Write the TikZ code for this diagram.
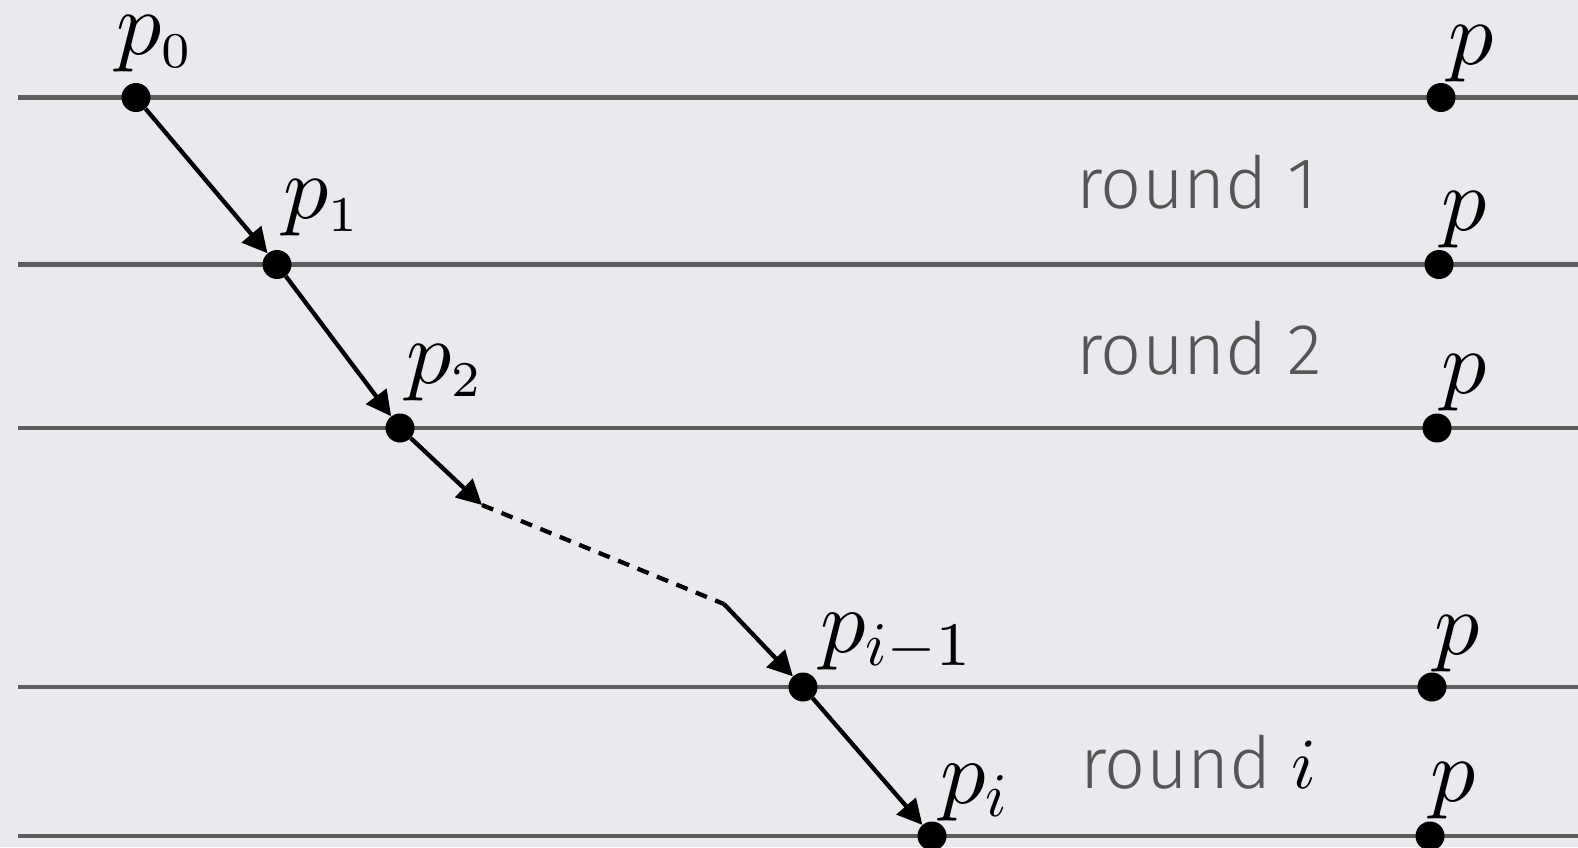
\RequirePackage{fix-cm}
\documentclass[tikz,border=0pt]{standalone}
\usepackage{fontspec}
\newfontfamily\roundfont{Fira Sans Light}
\usetikzlibrary{arrows.meta}
\DeclareFontShape{OML}{cmm}{m}{it}{<->cmmi10}{}
\DeclareFontShape{OT1}{cmr}{m}{n}{<->cmr7}{}
\DeclareMathSizes{90}{90}{50}{36}
\DeclareMathSizes{90.5}{90.5}{62}{40}
\definecolor{bg}{RGB}{233,233,238}
\definecolor{rulecol}{RGB}{90,94,92}
\definecolor{rtext}{RGB}{85,85,85}
\tikzset{
  dot/.style={circle,fill=black,minimum size=29pt,inner sep=0pt},
  rline/.style={draw=rulecol,line width=4.6pt},
  msg/.style={line width=4.3pt,-{Triangle[length=25pt,width=25pt]}},
  dashmsg/.style={line width=4.3pt,dash pattern=on 12pt off 9pt},
  lbl/.style={anchor=base west,inner sep=0pt,font=\fontsize{90}{100}\selectfont},
  lblb/.style={anchor=base west,inner sep=0pt,font=\fontsize{90.5}{100}\selectfont},
  rnd/.style={anchor=base west,inner sep=0pt,text=rtext,font=\fontsize{72}{86}\selectfont\roundfont},
}
\begin{document}
\begin{tikzpicture}[x=1pt,y=-1pt]
\fill[bg] (0,0) rectangle (1578,847);
\useasboundingbox (0,0) rectangle (1578,847);
% round lines
\draw[rline] (18,97.5) -- (1578,97.5);
\draw[rline] (18,264.5) -- (1578,264.5);
\draw[rline] (18,428) -- (1578,428);
\draw[rline] (18,687) -- (1578,687);
\draw[rline] (18,836) -- (1578,836);
% chain dots
\node[dot] (p0) at (136,97.5) {};
\node[dot] (p1) at (277,264.5) {};
\node[dot] (p2) at (400,428) {};
\node[dot] (pim) at (803,687) {};
\node[dot] (pi) at (932,836) {};
% right dots
\node[dot] (q1) at (1441,97.5) {};
\node[dot] (q2) at (1439,264.5) {};
\node[dot] (q3) at (1437,428) {};
\node[dot] (q4) at (1432,687) {};
\node[dot] (q5) at (1430,836) {};
% connectors
\coordinate (d1) at (482,505);
\coordinate (d2) at (724,604);
\draw[msg] (p0) -- (p1);
\draw[msg] (p1) -- (p2);
\draw[msg] (p2) -- (d1);
\draw[dashmsg] (d1) -- (d2);
\draw[msg] (d2) -- (pim);
\draw[msg] (pim) -- (pi);
% labels
\node[lbl] (l0) at (116,54) {$p_0$};
\node[lbl] (l1) at (283,218) {$p_1$};
\node[lbl] (l2) at (406,383) {$p_2$};
\node[lblb] (lim) at (820,652) {$p_{i-1}$};
\node[lblb] (li) at (940,803) {$p_i$};
\node[lbl] (m1) at (1448,64) {$p$};
\node[lbl] (m2) at (1441,230) {$p$};
\node[lbl] (m3) at (1441,393) {$p$};
\node[lbl] (m4) at (1434,654) {$p$};
\node[lbl] (m5) at (1430,801) {$p$};
% round labels
\node[rnd] (r1) at (1076,208) {round 1};
\node[rnd] (r2) at (1076,374) {round 2};
\node[rnd] (ri) at (1080,788) {round \textcolor{black}{$i$}};
\end{tikzpicture}
\end{document}
